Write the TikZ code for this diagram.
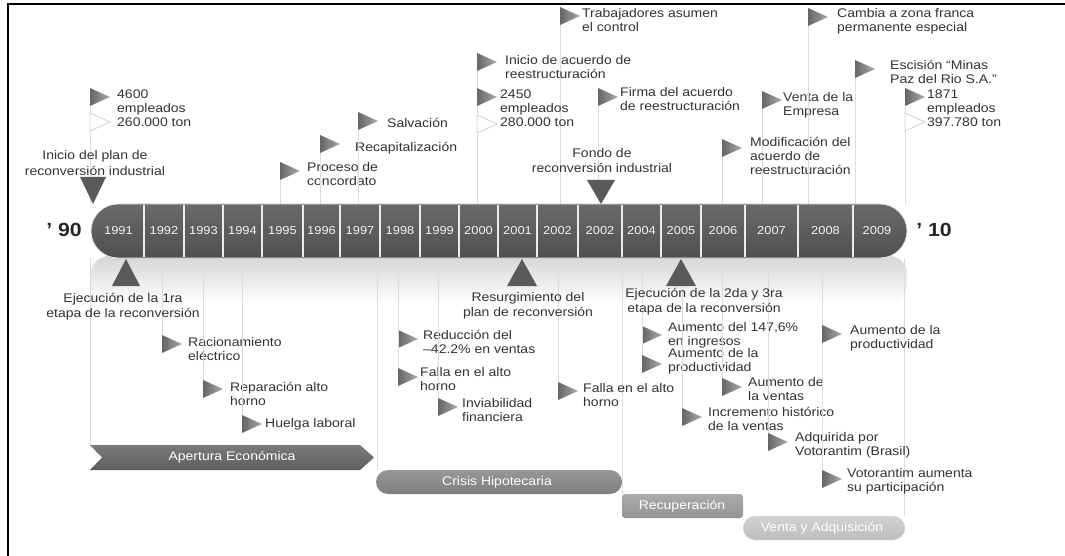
\documentclass[tikz,border=0pt]{standalone}
\usepackage{fontspec}
\setmainfont{Liberation Sans}[FakeStretch=1.12]
\definecolor{txt}{HTML}{333333}
\definecolor{barT}{HTML}{6A6A6A}
\definecolor{barB}{HTML}{505050}
\definecolor{flagL}{HTML}{666666}
\definecolor{flagR}{HTML}{ABABAB}
\definecolor{mark}{HTML}{5A5A5A}
\definecolor{polec}{HTML}{DCDCDC}
\definecolor{aperT}{HTML}{7A7A7A}
\definecolor{aperB}{HTML}{5E5E5E}
\definecolor{crisT}{HTML}{979797}
\definecolor{crisB}{HTML}{7E7E7E}
\definecolor{recuT}{HTML}{ABABAB}
\definecolor{recuB}{HTML}{949494}
\definecolor{ventT}{HTML}{D2D2D2}
\definecolor{ventB}{HTML}{BDBDBD}
\tikzset{
  lbl/.style={font=\fontsize{12.5}{14}\selectfont, text=txt, inner sep=0pt, align=left},
  mlbl/.style={font=\fontsize{12.5}{15}\selectfont, text=txt, inner sep=0pt, align=center},
  yr/.style={font=\fontsize{11.5}{12}\selectfont, text=white!90!gray, inner sep=0pt},
  big/.style={font=\bfseries\fontsize{19}{19}\selectfont, text=black!85, inner sep=0pt},
  bandtxt/.style={font=\fontsize{12.5}{14}\selectfont, text=white, inner sep=0pt},
  pole/.style={draw=polec, line width=0.8pt},
  flagshade/.style={left color=flagL, right color=flagR},
  lighttri/.style={fill=white, draw=gray!35, line width=0.8pt},
  marker/.style={fill=mark}
}
% flag above the bar: name, pole x, triangle top y, text x, first-line centre y, text
\newcommand{\flagup}[6]{%
  \coordinate (#1p) at (#2,#3);
  \draw[pole] (#1p) -- (#1p |- bartop);
  \shade[flagshade] (#2,#3) -- (#2+20,#3+9) -- (#2,#3+18) -- cycle;
  \node[lbl, anchor=north west] (#1) at (#4,#5-5) {#6};
}
% flag below the bar
\newcommand{\flagdn}[6]{%
  \coordinate (#1p) at (#2,#3+18);
  \draw[pole] (#1p |- barbot) -- (#1p);
  \shade[flagshade] (#2,#3) -- (#2+20,#3+9) -- (#2,#3+18) -- cycle;
  \node[lbl, anchor=north west] (#1) at (#4,#5-5) {#6};
}
\newcommand{\ltri}[3]{%
  \coordinate (#1) at (#2,#3);
  \draw[lighttri] (#2,#3) -- (#2+20,#3+9) -- (#2,#3+18) -- cycle;
}
\begin{document}
\begin{tikzpicture}[x=1pt,y=-1pt]
\useasboundingbox (0,0) rectangle (1065,556);
\fill[white] (0,0) rectangle (1065,556);
\coordinate (bartop) at (0,204);
\coordinate (barbot) at (0,258);

% frame (top and left edges)
\draw[black, line width=2.5pt] (8,556) -- (8,4) -- (1065,4);

% reflection under the bar
\shade[top color=gray!32, bottom color=white, rounded corners=18pt] (91,256) rectangle (907,305);

% phase guide lines
\coordinate (ph1) at (90,445);
\coordinate (ph2) at (377,470);
\coordinate (ph3) at (622,494);
\coordinate (ph4) at (904,516);
\draw[pole] (ph1 |- barbot) -- (ph1);
\draw[pole] (ph2 |- barbot) -- (ph2);
\draw[pole] (ph3 |- barbot) -- (ph3);
\draw[pole] (ph4 |- barbot) -- (ph4);

% flags above the bar
\flagup{f4600}{90}{88}{117}{95}{4600\\empleados\\260.000 ton}
\ltri{t4600}{90}{113}
\flagup{fproc}{280}{162}{307}{167}{Proceso de\\concordato}
\flagup{frecap}{320}{135}{355}{147}{Recapitalización}
\flagup{fsalv}{358}{112}{387}{123}{Salvación}
\flagup{ftrab}{560}{7}{582}{13}{Trabajadores asumen\\el control}
\flagup{finic}{477}{53}{505}{60}{Inicio de acuerdo de\\reestructuración}
\flagup{f2450}{477}{88}{500}{95}{2450\\empleados\\280.000 ton}
\ltri{t2450}{477}{115}
\flagup{ffirma}{598}{88}{620}{92}{Firma del acuerdo\\de reestructuración}
\flagup{fventa}{762}{91}{783}{97}{Venta de la\\Empresa}
\flagup{fmodif}{722}{139}{750}{142}{Modificación del\\acuerdo de\\reestructuración}
\flagup{fcamb}{808}{8}{837}{13}{Cambia a zona franca\\permanente especial}
\flagup{fesc}{855}{60}{890}{65}{Escisión “Minas\\Paz del Rio S.A.”}
\flagup{f1871}{905}{88}{927}{95}{1871\\empleados\\397.780 ton}
\ltri{t1871}{905}{113}

% flags below the bar
\flagdn{fracio}{162}{335}{188}{342}{Racionamiento\\eléctrico}
\flagdn{frepar}{203}{380}{230}{387}{Reparación alto\\horno}
\flagdn{fhuel}{242}{415}{265}{423}{Huelga laboral}
\flagdn{freduc}{398}{330}{423}{335}{Reducción del\\–42.2\% en ventas}
\flagdn{ffalla}{398}{368}{420}{372}{Falla en el alto\\horno}
\flagdn{finvia}{438}{398}{462}{403}{Inviabilidad\\financiera}
\flagdn{ffallb}{558}{382}{583}{388}{Falla en el alto\\horno}
\flagdn{faum1}{642}{326}{668}{327}{Aumento del 147,6\%\\en ingresos}
\flagdn{faum2}{642}{355}{668}{353}{Aumento de la\\productividad}
\flagdn{faum3}{722}{378}{748}{382}{Aumento de\\la ventas}
\flagdn{fincr}{682}{408}{708}{412}{Incremento histórico\\de la ventas}
\flagdn{fadq}{768}{433}{795}{437}{Adquirida por\\Votorantim (Brasil)}
\flagdn{fvot}{822}{470}{847}{473}{Votorantim aumenta\\su participación}
\flagdn{faum4}{822}{325}{850}{330}{Aumento de la\\productividad}

% timeline bar
\shade[top color=barT, bottom color=barB, rounded corners=27pt, draw=white!80!gray, line width=0.8pt] (91,204) rectangle (907,258);
\foreach \x in {144,184,223,262,303,340,380,420,459,498,537,578,622,661,701,745,798,853}
  \draw[white!85!gray, line width=1.2pt] (\x,205) -- (\x,257);
\foreach \a/\b/\t [count=\i] in {93/144/1991,144/184/1992,184/223/1993,223/262/1994,262/303/1995,303/340/1996,340/380/1997,380/420/1998,420/459/1999,459/498/2000,498/537/2001,537/578/2002,578/622/2002,622/661/2004,661/701/2005,701/745/2006,745/798/2007,798/853/2008,853/901/2009}
  \node[yr] (yr\i) at ({(\a+\b)/2},231) {\t};
\node[big] (n90) at (64,230) {' 90};
\node[big] (n10) at (934,230) {' 10};

% markers on the bar
\fill[marker] (80,177) -- (106,177) -- (93,204) -- cycle;
\node[mlbl, anchor=north] (lini) at (95,150) {Inicio del plan de\\[1pt]reconversión industrial};
\fill[marker] (587,180) -- (615,180) -- (601,204) -- cycle;
\node[mlbl, anchor=north] (lfondo) at (602,148) {Fondo de\\reconversión industrial};
\fill[marker] (112,286) -- (140,286) -- (126,259) -- cycle;
\node[mlbl, anchor=north] (leje1) at (123,293) {Ejecución de la 1ra\\etapa de la reconversión};
\fill[marker] (507,286) -- (537,286) -- (522,259) -- cycle;
\node[mlbl, anchor=north] (lresu) at (528,292) {Resurgimiento del\\plan de reconversión};
\fill[marker] (666,286) -- (696,286) -- (681,259) -- cycle;
\node[mlbl, anchor=north] (leje2) at (704,288) {Ejecución de la 2da y 3ra\\etapa de la reconversión};

% phase bands
\shade[top color=aperT, bottom color=aperB] (90,445) -- (360,445) -- (374,457.5) -- (360,470) -- (90,470) -- (102,457.5) -- cycle;
\node[bandtxt] (bap) at (232,457.5) {Apertura Económica};
\shade[top color=crisT, bottom color=crisB, rounded corners=12pt] (376,470) rectangle (622,494);
\node[bandtxt] (bcr) at (497,482) {Crisis Hipotecaria};
\shade[top color=recuT, bottom color=recuB, rounded corners=3pt] (622,494) rectangle (743,518);
\node[bandtxt] (bre) at (682,506) {Recuperación};
\shade[top color=ventT, bottom color=ventB, rounded corners=12pt] (743,516) rectangle (905,540);
\node[bandtxt] (bve) at (822,528) {Venta y Adquisición};
\end{tikzpicture}
\end{document}
